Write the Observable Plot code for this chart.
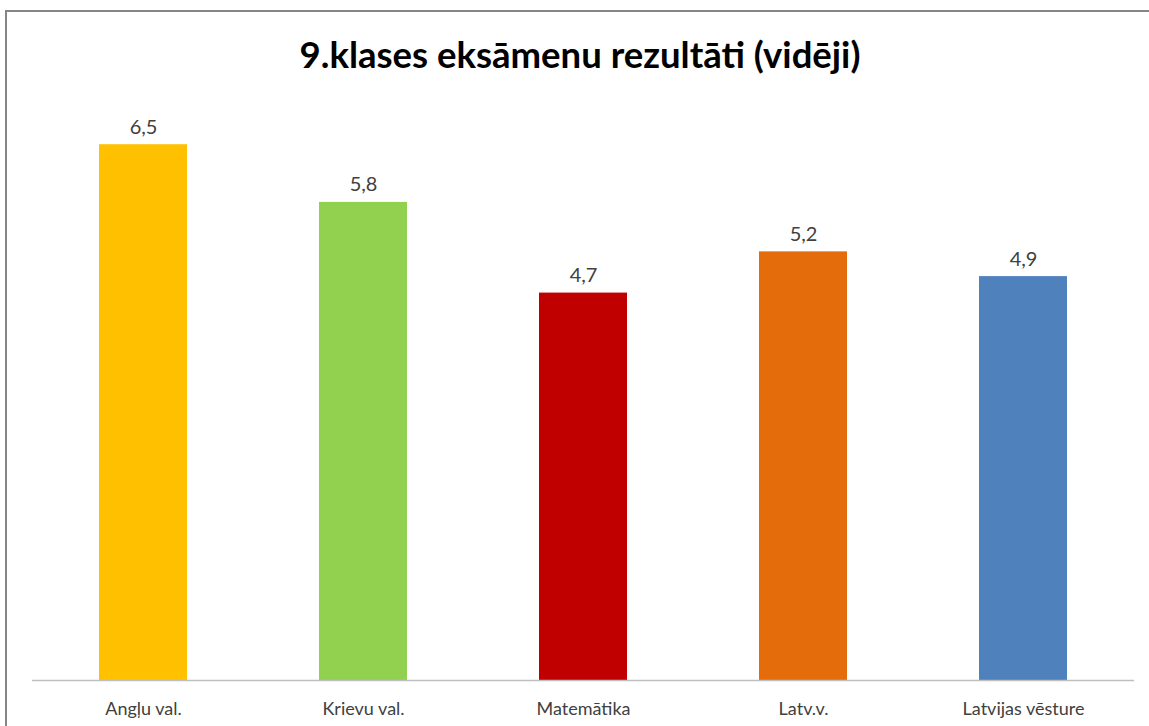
<!DOCTYPE html>
<html>
<head>
<meta charset="utf-8">
<script src="https://cdn.jsdelivr.net/npm/d3@7"></script>
<script src="https://cdn.jsdelivr.net/npm/@observablehq/plot@0.6"></script>
<style>
  html, body { margin: 0; padding: 0; background: #fff; }
  #wrap { position: relative; width: 1149px; height: 726px; overflow: hidden; font-family: Lato, "Open Sans", sans-serif; }
  #frame { position: absolute; left: 5px; top: 10px; width: 1160px; height: 740px; border-left: 2px solid #868686; border-top: 2px solid #868686; box-sizing: border-box; z-index: 2; pointer-events: none; }
  #title { position: absolute; left: 0; top: 0; width: 1160px; height: 100px; line-height: 108px; text-align: center; font-weight: bold; font-size: 36.5px; color: #000; }
  #chart { position: absolute; left: 0; top: 100px; }
</style>
</head>
<body>
<div id="wrap">
  <div id="frame"></div>
  <div id="title">9.klases eksāmenu rezultāti (vidēji)</div>
  <div id="chart"></div>
</div>
<script>
const categories = ["Angļu val.", "Krievu val.", "Matemātika", "Latv.v.", "Latvijas vēsture"];
const values = [6.5, 5.8, 4.7, 5.2, 4.9];
const colors = ["#FFC000", "#92D050", "#C00000", "#E46C0A", "#4F81BD"];

const data = categories.map((c, i) => ({category: c, value: values[i], color: colors[i]}));
const fmt = v => v.toFixed(1).replace(".", ",");

const chart = Plot.plot({
  width: 1149,
  height: 626,
  marginLeft: 32,
  marginRight: 15,
  marginTop: 3,
  marginBottom: 46,
  style: {fontFamily: "Lato, 'Open Sans', sans-serif", background: "transparent", fontSize: "18px"},
  x: {domain: categories, padding: 0, label: null},
  y: {domain: [0, 7], axis: null},
  marks: [
    Plot.barY(data, {x: "category", y: "value", fill: d => d.color, insetLeft: 66, insetRight: 66}),
    Plot.ruleY([0], {stroke: "#BFBFBF", strokeWidth: 1.5}),
    Plot.text(data, {x: "category", y: "value", text: d => fmt(d.value), lineAnchor: "bottom", dy: -11, fontSize: 20, fill: "#404040"}),
    Plot.axisX({tickSize: 0, tickPadding: 22, fontSize: 18, fill: "#404040", label: null})
  ]
});
document.getElementById("chart").appendChild(chart);
</script>
</body>
</html>
